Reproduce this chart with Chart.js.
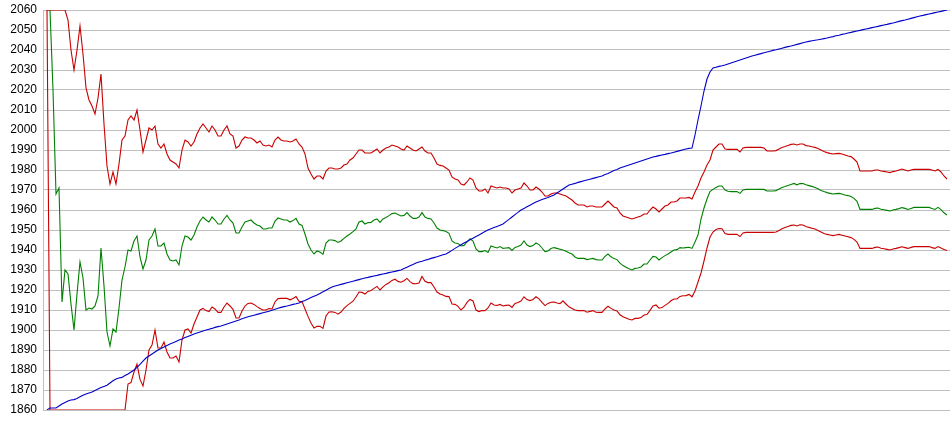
<!DOCTYPE html>
<html>
<head>
<meta charset="utf-8">
<script src="https://cdn.jsdelivr.net/npm/chart.js@4.4.1/dist/chart.umd.min.js"></script>
<style>
  html, body { margin: 0; padding: 0; background: #fff; }
</style>
</head>
<body>
<canvas id="bandsChart" width="950" height="435"></canvas>
<script>
// y axis tick values
const yTicks = [1860, 1870, 1880, 1890, 1900, 1910, 1920, 1930, 1940, 1950, 1960,
                1970, 1980, 1990, 2000, 2010, 2020, 2030, 2040, 2050, 2060];

// upper band (red, top)
const upperBand = [
  2060, 2060, 2060, 2060, 2060, 2060, 2060, 2055, 2040, 2030,
  2040, 2052, 2038, 2021, 2015, 2012, 2008, 2016, 2028, 2003,
  1982, 1973, 1979, 1973, 1983, 1995, 1997, 2005, 2007, 2005,
  2010, 2000, 1989, 1995, 2001, 2000, 2002, 1993, 1991, 1993,
  1988, 1985, 1984, 1983, 1981, 1990, 1995, 1994, 1992, 1994,
  1998, 2001, 2003, 2001, 1999, 2002, 2000, 1997, 1997, 2000,
  2002, 1998, 1997, 1991, 1992, 1995, 1996.5, 1996, 1996, 1995,
  1993.5, 1994.5, 1992.5, 1992, 1992.5, 1991.5, 1995, 1996.5, 1995, 1994.5,
  1994.5, 1994, 1994.5, 1995.5, 1993, 1991.5, 1988, 1981, 1978, 1975.5,
  1977, 1977, 1975.5, 1979.5, 1981, 1981, 1980.5, 1980.5, 1981, 1982.5,
  1983, 1985, 1986, 1988, 1990, 1990, 1988.5, 1988.5, 1988.5, 1989.5,
  1990.5, 1988.5, 1990, 1991, 1991.5, 1992.5, 1992, 1991.5, 1990.5, 1990,
  1992, 1991, 1990, 1989.5, 1990.5, 1991.5, 1989.5, 1988.5, 1988.5, 1986,
  1983, 1982.3, 1982, 1981, 1980, 1976.5, 1975.5, 1975, 1973, 1972.5,
  1974, 1976, 1975, 1971, 1969.5, 1969.5, 1970.5, 1968.5, 1972, 1971.5,
  1971, 1971.5, 1971, 1971, 1970.5, 1968.5, 1970, 1970.5, 1971, 1973.5,
  1972, 1970, 1970, 1971.5, 1970.5, 1969, 1967, 1967, 1968, 1968.5,
  1968.5, 1968, 1967.5, 1967, 1966, 1965, 1963.5, 1962.5, 1962.5, 1962.5,
  1961.5, 1962, 1962, 1961.5, 1961.5, 1961.5, 1963, 1964.5, 1963, 1961.5,
  1961, 1958.5, 1957, 1956.5, 1956, 1955.5, 1956, 1956.5, 1957, 1958,
  1958, 1960, 1961.5, 1960.5, 1959, 1960.5, 1962, 1962.5, 1964, 1964,
  1964.5, 1966, 1966, 1966, 1966.3, 1965.5, 1969, 1972, 1976, 1979,
  1982.5, 1985, 1990, 1991.5, 1993, 1993, 1990.5, 1990.3, 1990.3, 1990.3,
  1990.3, 1989, 1991, 1991.3, 1991.3, 1991.3, 1991.3, 1991.3, 1991.3, 1991,
  1989.5, 1989.5, 1989.5, 1989.7, 1990.5, 1991.2, 1991.7, 1992.3, 1992.8, 1993,
  1992.5, 1993, 1993, 1992.2, 1992, 1991.6, 1991.3, 1990.8, 1990, 1989.2,
  1988.7, 1988.3, 1988, 1988.2, 1988.3, 1988, 1987.5, 1987, 1986.7, 1985.5,
  1984, 1979.5, 1979.5, 1979.5, 1979.5, 1979.5, 1980, 1980, 1979.5, 1979.3,
  1979, 1978.7, 1979.2, 1979.5, 1980, 1980.5, 1980, 1979.5, 1980, 1980.3,
  1980.3, 1980.3, 1980.3, 1980.3, 1980.3, 1980, 1979.5, 1980.3, 1979, 1977,
  1975.5
];

// middle band (green)
const middleBand = [
  2060, 2060, 2020, 1968, 1971, 1914, 1930, 1928, 1913, 1900,
  1918, 1934, 1926, 1910, 1911, 1910.5, 1912, 1917, 1941, 1922,
  1899, 1892, 1900.5, 1899, 1911, 1925, 1931.5, 1940, 1939.5, 1944.5,
  1947, 1936.5, 1930.5, 1935, 1945, 1947, 1950.5, 1942, 1942, 1943.5,
  1938, 1935, 1934.5, 1935, 1932.5, 1942, 1947, 1946.5, 1945, 1947.5,
  1951.5, 1954.5, 1956.5, 1955, 1954, 1956.5, 1955, 1953, 1953, 1955.5,
  1957.3, 1955, 1953.5, 1948.5, 1948.5, 1951.5, 1954, 1954.5, 1955, 1953.5,
  1952.5, 1952, 1950.5, 1950.5, 1951, 1951, 1954.5, 1956, 1955.5, 1955,
  1955, 1954, 1954.7, 1955.8, 1953, 1952.3, 1948, 1943, 1940, 1938,
  1939.5, 1939, 1937.8, 1943.5, 1945, 1945, 1944.7, 1943.8, 1944.5, 1945.8,
  1947, 1948, 1949.2, 1950.5, 1954, 1954.5, 1953, 1953.7, 1953.8, 1955,
  1955.5, 1953.8, 1955.5, 1956.3, 1957.2, 1958.2, 1958.5, 1957.8, 1957, 1957.3,
  1958.7, 1957, 1955.8, 1955.8, 1956.5, 1958.7, 1956.5, 1955.8, 1955.5, 1953.5,
  1951, 1950, 1949.7, 1949.2, 1948.3, 1944.5, 1943.5, 1943.3, 1942, 1942.3,
  1944, 1945.6, 1944.5, 1940.5, 1939.2, 1939.2, 1939.7, 1938.8, 1942, 1941.5,
  1941, 1941.7, 1940.8, 1941, 1941.2, 1939.8, 1941.3, 1941.8, 1942.5, 1944.5,
  1942.5, 1941.7, 1942.2, 1943.5, 1942.7, 1941, 1939.2, 1939.5, 1940.7, 1941.2,
  1940.8, 1940.4, 1940, 1939.4, 1938.6, 1938, 1936.5, 1935.8, 1935.8, 1935.8,
  1935.2, 1935.5, 1935.8, 1935.2, 1935, 1935, 1936.8, 1938, 1936.6, 1935.7,
  1935.2, 1933.4, 1932.2, 1931.4, 1930.6, 1930, 1930.8, 1931, 1931.5, 1933,
  1933, 1935, 1936.8, 1936.5, 1935, 1936.2, 1937.2, 1938, 1939, 1940,
  1940.2, 1941.2, 1941, 1941.2, 1941.4, 1940.8, 1944, 1947.5, 1955.5, 1961,
  1965.5, 1969.2, 1970.3, 1971.2, 1972, 1972, 1970, 1969.4, 1969.2, 1969.2,
  1969.2, 1968.3, 1970, 1970.3, 1970.3, 1970.3, 1970.3, 1970.3, 1970.3, 1970.3,
  1969.5, 1969.5, 1969.5, 1969.7, 1970.5, 1971.2, 1971.7, 1972.3, 1972.8, 1973.3,
  1972.6, 1973.2, 1973.2, 1972.6, 1972.2, 1971.8, 1971.3, 1970.6, 1969.8, 1969.2,
  1968.7, 1968.3, 1968, 1968.2, 1968.3, 1968, 1967.5, 1967.2, 1966.7, 1965.8,
  1964.3, 1960.3, 1960.3, 1960.3, 1960.3, 1960.3, 1960.8, 1961, 1960.4, 1960.1,
  1959.8, 1959.5, 1960, 1960.3, 1960.7, 1961.2, 1960.8, 1960.3, 1960.8, 1961.3,
  1961.3, 1961.3, 1961.3, 1961.3, 1961.3, 1960.8, 1960.3, 1961.3, 1960.2, 1958.6,
  1957.5
];

// lower band (red, bottom)
const lowerBand = [
  2060, 1860, 1860, 1860, 1860, 1860, 1860, 1860, 1860, 1860,
  1860, 1860, 1860, 1860, 1860, 1860, 1860, 1860, 1860, 1860,
  1860, 1860, 1860, 1860, 1860, 1860, 1860, 1873, 1873.7, 1879,
  1883, 1875.3, 1872, 1880, 1890, 1892.5, 1900, 1891, 1891, 1894,
  1889, 1886, 1886, 1887, 1884, 1895, 1900, 1900.5, 1898.5, 1903,
  1906.5, 1910, 1910.8, 1909.7, 1909.2, 1911.5, 1910.5, 1908.8, 1908.8, 1911.5,
  1913.5, 1912, 1910.3, 1906, 1906, 1909.5, 1912, 1913.3, 1913.5, 1912.8,
  1911.7, 1910.8, 1910, 1910, 1910.7, 1910.5, 1914, 1915.7, 1915.8, 1915.8,
  1915.8, 1915.1, 1915.8, 1916.7, 1914.4, 1914.2, 1910.5, 1906.8, 1903.5, 1901,
  1901.9, 1901.8, 1900.8, 1907, 1909, 1909.1, 1908.8, 1907.9, 1909, 1910.8,
  1912.2, 1913.3, 1914.4, 1916.5, 1919, 1918.8, 1918, 1919.3, 1919.8, 1920.8,
  1921.8, 1920, 1921.6, 1922.8, 1923.6, 1924.8, 1925.4, 1924.3, 1923.9, 1924.6,
  1925.8, 1924.2, 1923.2, 1923.1, 1923.5, 1926.8, 1924.4, 1923.7, 1923.7, 1921.5,
  1919, 1918, 1917.5, 1916.8, 1916.7, 1913, 1912.8, 1911.8, 1910, 1911.4,
  1913.8, 1915.3, 1914.5, 1910, 1909.2, 1909.7, 1909.7, 1911, 1913.5, 1912.5,
  1912.3, 1912.8, 1912, 1912.3, 1912.5, 1911.3, 1913.3, 1913.8, 1914.5, 1916.6,
  1915.2, 1914.7, 1915.3, 1916.6, 1915.6, 1913.8, 1912.2, 1913.3, 1913.9, 1914,
  1913.5, 1913.2, 1914.6, 1913, 1911.6, 1910.8, 1910, 1909.7, 1909.7, 1909.7,
  1908.9, 1909.3, 1909.7, 1908.9, 1908.8, 1908.8, 1910.5, 1911.9, 1910.8, 1910,
  1909.5, 1907.6, 1906.6, 1906, 1905.4, 1905, 1905.8, 1905.8, 1906.2, 1907.5,
  1907.7, 1909.8, 1912, 1912.5, 1910.9, 1911.2, 1912.3, 1913.3, 1914.6, 1915.5,
  1915.5, 1916.8, 1917.1, 1917.2, 1917.8, 1916.6, 1919.5, 1924, 1928.5, 1934.5,
  1941, 1946.5, 1949, 1950.2, 1950.7, 1950.6, 1948.2, 1947.8, 1947.8, 1947.8,
  1947.8, 1946.7, 1948.5, 1948.8, 1948.8, 1948.8, 1948.8, 1948.8, 1948.8, 1948.8,
  1948.8, 1948.8, 1948.8, 1949, 1949.8, 1950.6, 1951.2, 1951.8, 1952.3, 1952.5,
  1952, 1952.6, 1952.5, 1951.8, 1951.3, 1950.9, 1950.5, 1949.8, 1949, 1948.3,
  1947.8, 1947.5, 1947.2, 1947.5, 1947.8, 1947.4, 1947, 1946.6, 1946.2, 1945.3,
  1944, 1940.8, 1940.8, 1940.8, 1940.8, 1940.8, 1941.3, 1941.5, 1940.9, 1940.6,
  1940.3, 1940, 1940.5, 1940.8, 1941.2, 1941.6, 1941.2, 1940.8, 1941.3, 1941.7,
  1941.7, 1941.7, 1941.7, 1941.7, 1941.7, 1941.2, 1940.8, 1941.7, 1941, 1940.3,
  1939.7
];

// price line (blue)
const price = [
  1860, 1861, 1861, 1861, 1862, 1863, 1863.8, 1864.5, 1865, 1865.2,
  1865.8, 1866.6, 1867.4, 1868, 1868.5, 1869, 1869.8, 1870.5, 1871.2, 1871.8,
  1872.4, 1873.5, 1874.6, 1875.5, 1876, 1876.3, 1877.2, 1878, 1879, 1880,
  1881.3, 1882.8, 1884.4, 1886, 1887, 1888, 1889, 1890, 1890.8, 1891.5,
  1892.3, 1893, 1893.6, 1894.3, 1895, 1895.5, 1896.2, 1896.8, 1897.4, 1898,
  1898.5, 1899, 1899.5, 1900, 1900.4, 1900.8, 1901.3, 1901.7, 1902, 1902.5,
  1903, 1903.5, 1904, 1904.5, 1905, 1905.6, 1906.1, 1906.6, 1907, 1907.4,
  1907.8, 1908.2, 1908.6, 1909, 1909.4, 1909.9, 1910.4, 1910.9, 1911.3, 1911.7,
  1912, 1912.4, 1912.8, 1913.1, 1913.5, 1914.2, 1914.8, 1915.5, 1916.2, 1916.9,
  1917.5, 1918.3, 1919.1, 1919.9, 1920.7, 1921.5, 1922, 1922.4, 1922.8, 1923.2,
  1923.6, 1924, 1924.4, 1924.8, 1925.2, 1925.6, 1926, 1926.3, 1926.7, 1927,
  1927.3, 1927.7, 1928, 1928.3, 1928.7, 1929, 1929.3, 1929.7, 1930, 1930.7,
  1931.4, 1932.1, 1932.8, 1933.5, 1934, 1934.4, 1934.9, 1935.3, 1935.8, 1936.2,
  1936.6, 1937.1, 1937.6, 1938, 1938.9, 1939.8, 1940.8, 1941.7, 1942.6, 1943.5,
  1944.3, 1945.1, 1945.9, 1946.7, 1947.5, 1948.4, 1949.2, 1950, 1950.6, 1951.2,
  1951.8, 1952.4, 1953, 1954.2, 1955.3, 1956.5, 1957.7, 1958.8, 1960, 1960.8,
  1961.6, 1962.4, 1963.2, 1964, 1964.6, 1965.2, 1965.8, 1966.3, 1966.9, 1967.5,
  1968.5, 1969.5, 1970.5, 1971.5, 1972.5, 1972.9, 1973.3, 1973.8, 1974.2, 1974.6,
  1975, 1975.4, 1975.8, 1976.2, 1976.6, 1977, 1977.7, 1978.3, 1979, 1979.7,
  1980.3, 1981, 1981.5, 1982, 1982.5, 1983, 1983.5, 1984, 1984.5, 1985,
  1985.5, 1986, 1986.5, 1986.8, 1987.2, 1987.5, 1987.8, 1988.2, 1988.5, 1988.9,
  1989.3, 1989.7, 1990.1, 1990.5, 1990.8, 1991, 1997.5, 2005, 2012, 2019.5,
  2025.5, 2029, 2031, 2031.4, 2031.8, 2032.1, 2032.5, 2033, 2033.5, 2034,
  2034.5, 2035, 2035.5, 2036, 2036.5, 2037, 2037.4, 2037.8, 2038.2, 2038.6,
  2039, 2039.4, 2039.8, 2040.1, 2040.5, 2040.9, 2041.3, 2041.7, 2042, 2042.4,
  2042.8, 2043.2, 2043.6, 2044, 2044.3, 2044.6, 2044.9, 2045.1, 2045.4, 2045.7,
  2046, 2046.4, 2046.7, 2047.1, 2047.4, 2047.8, 2048.1, 2048.5, 2048.8, 2049.2,
  2049.5, 2049.8, 2050.2, 2050.5, 2050.8, 2051.2, 2051.5, 2051.8, 2052.2, 2052.5,
  2052.8, 2053.2, 2053.5, 2053.9, 2054.3, 2054.7, 2055, 2055.4, 2055.8, 2056.2,
  2056.6, 2057, 2057.3, 2057.7, 2058, 2058.3, 2058.7, 2059, 2059.3, 2059.7,
  2060
];

// x positions are just the sample index
const steps = price.map((v, i) => i);

const ctx = document.getElementById('bandsChart').getContext('2d');

new Chart(ctx, {
  type: 'line',
  data: {
    labels: steps,
    datasets: [
      { label: 'Price', data: price, borderColor: '#0000c8', order: 0 },
      { label: 'Upper', data: upperBand, borderColor: '#c80000', order: 1 },
      { label: 'Middle', data: middleBand, borderColor: '#008000', order: 2 },
      { label: 'Lower', data: lowerBand, borderColor: '#c80000', order: 3 }
    ]
  },
  options: {
    responsive: false,
    animation: false,
    devicePixelRatio: 1,
    layout: { padding: { top: 10, bottom: 25, left: 0, right: 0 } },
    elements: {
      line: { borderWidth: 1.1, tension: 0, fill: false },
      point: { radius: 0, hoverRadius: 0 }
    },
    plugins: {
      legend: { display: false },
      tooltip: { enabled: false }
    },
    scales: {
      x: {
        type: 'linear',
        min: -4 / 3,
        max: 301,
        display: false
      },
      y: {
        min: 1860,
        max: 2060,
        afterBuildTicks: function (scale) {
          scale.ticks = yTicks.map(v => ({ value: v }));
        },
        afterFit: function (scale) {
          // fixed axis width, no extra room reserved for the end labels
          scale.width = 43;
          scale.paddingTop = 0;
          scale.paddingBottom = 0;
        },
        ticks: {
          color: '#000',
          padding: 6,
          font: { family: 'Liberation Sans, Arial, sans-serif', size: 12 },
          callback: v => String(v)
        },
        grid: { color: '#c0c0c0', drawTicks: false },
        border: { color: '#c0c0c0' }
      }
    }
  }
});
</script>
</body>
</html>
